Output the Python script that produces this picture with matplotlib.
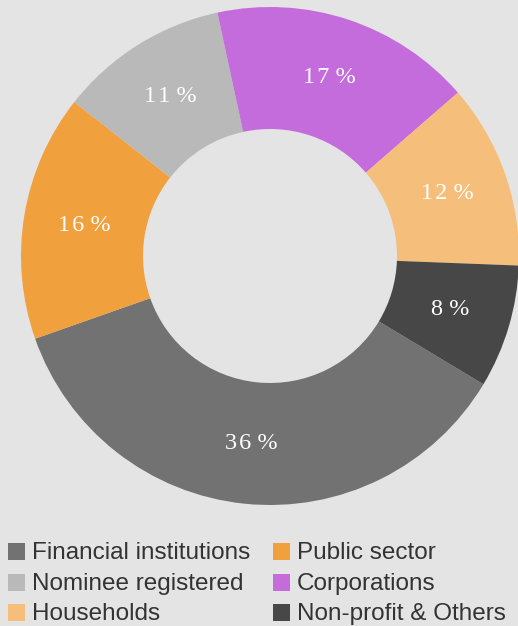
import matplotlib.pyplot as plt
from matplotlib.patches import Rectangle

# ownership split, clockwise from the lower right
groups = ['Financial institutions', 'Public sector', 'Nominee registered',
          'Corporations', 'Households', 'Non-profit & Others']
shares = [36, 16, 11, 17, 12, 8]
colours = ['#727272', '#F0A13E', '#B9B9B9', '#C56CDC', '#F5BF7B', '#474747']

bg = '#E4E4E4'
W, H = 518, 626

fig = plt.figure(figsize=(W / 100, H / 100), dpi=100, facecolor=bg)
ax = fig.add_axes([21 / W, 121 / H, 498 / W, 498 / H])
ax.set_facecolor(bg)


def pct_label(p):
    # a hair space between the digits spreads the number out a little
    return '\u200a'.join(str(round(p))) + ' %'


wedges, texts, pcts = ax.pie(shares, colors=colours, startangle=-31, counterclock=False,
                             radius=1.0, wedgeprops=dict(width=0.49, linewidth=0),
                             autopct=pct_label, pctdistance=0.755)
for t in pcts:
    t.set_color('white')
    t.set_fontfamily(['Liberation Serif', 'DejaVu Serif'])
    t.set_fontsize(17.5)

ax.set_xlim(-1, 1)
ax.set_ylim(-1, 1)
ax.set_aspect('equal')
ax.axis('off')

# legend, two columns read row by row; positions in pixels from the top left
col_x = [8, 273]
row_base = [559, 590, 620]
box = 17
for i, (name, col) in enumerate(zip(groups, colours)):
    r, c = divmod(i, 2)
    x0 = col_x[c]
    yb = row_base[r]
    fig.patches.append(Rectangle((x0 / W, 1 - (yb + 1) / H), box / W, box / H,
                                 transform=fig.transFigure, facecolor=col,
                                 edgecolor='none'))
    fig.text((x0 + 24) / W, 1 - yb / H, name, color='#333333', fontsize=17.5,
             family='Liberation Sans', va='baseline', ha='left')

fig.savefig('out.png', dpi=100, facecolor=bg)
